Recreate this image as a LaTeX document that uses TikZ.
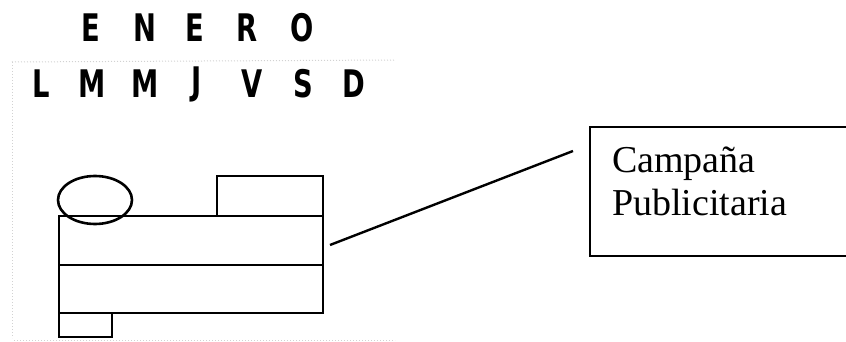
\documentclass[tikz,border=0pt]{standalone}
\usepackage{fontspec}
\setmainfont{Liberation Serif}
\newfontfamily\hdrfont{DejaVu Sans}
\usetikzlibrary{shapes.geometric}
\begin{document}
\begin{tikzpicture}[x=1pt,y=-1pt,
  hdr/.style={font=\hdrfont\bfseries\fontsize{38}{38}\selectfont, inner sep=0, anchor=center},
  calbox/.style={draw, line width=2.6pt, inner sep=0, rectangle},
  lbl/.style={font=\fontsize{38}{44}\selectfont, inner sep=0, anchor=base west},
  frame/.style={draw=gray!35, dotted, line width=1pt}
]
\useasboundingbox (0,0) rectangle (846,342);
\clip (0,0) rectangle (846,342);
\fill[white] (0,0) rectangle (846,342);
% faint scan frame
\draw[frame] (12,62) -- (395,60);
\draw[frame] (12,62) -- (12,338);
\draw[frame] (14,340) -- (395,340);
% month
\foreach \n/\x/\t in {m1/91/E,m2/145/N,m3/195/E,m4/247/R,m5/302/O}
  \node[hdr] (\n) at (\x,28) {\scalebox{0.72}[1]{\t}};
% days
\foreach \n/\x/\t in {d1/41/L,d2/92/M,d3/145/M,d4/197/J,d5/252/V,d6/303/S,d7/354/D}
  \node[hdr] (\n) at (\x,84) {\scalebox{0.72}[1]{\t}};
% highlighted blocks
\node[calbox, minimum width=106, minimum height=40] (top) at (270,196) {};
\node[calbox, minimum width=264, minimum height=49] (row1) at (191,240.5) {};
\node[calbox, minimum width=264, minimum height=48] (row2) at (191,289) {};
\node[calbox, minimum width=53, minimum height=24] (bot) at (85.5,325) {};
\node[draw, ellipse, line width=2.6pt, inner sep=0, minimum width=74, minimum height=48] (circ) at (95,200) {};
% callout box
\node[draw, line width=2pt, rectangle, inner sep=0, minimum width=300, minimum height=129] (box) at (740,191.5) {};
\node[lbl] (t1) at (612,172) {Campaña};
\node[lbl] (t2) at (612,215) {Publicitaria};
% connector
\coordinate (pa) at (330,245);
\coordinate (pb) at (573,151);
\draw[line width=2.4pt] (pa) -- (pb);
\end{tikzpicture}
\end{document}
